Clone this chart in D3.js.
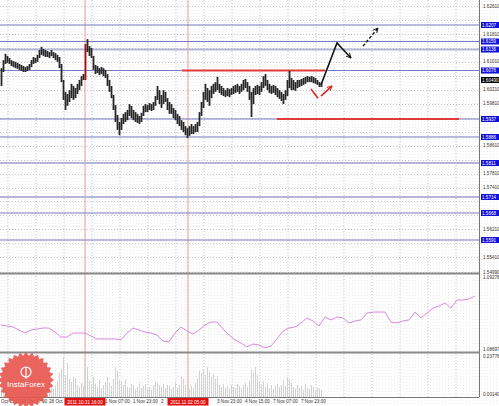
<!DOCTYPE html>
<html>
<head>
<meta charset="utf-8">
<script src="https://cdn.jsdelivr.net/npm/d3@7"></script>
<style>
body { margin: 0; background: #fff; }
svg { display: block; font-family: "Liberation Sans", Arial, sans-serif; }
</style>
</head>
<body>
<svg id="chart" width="499" height="406"></svg>
<script>
// hourly bars
var highs = [1.6083,1.6106,1.6124,1.6118,1.6112,1.6106,1.6103,1.6101,1.6098,1.6095,
  1.6092,1.6089,1.6086,1.6089,1.6095,1.6106,1.6115,1.6112,1.6121,1.6135,
  1.6144,1.6138,1.6135,1.6132,1.6129,1.6135,1.6129,1.6126,1.6121,1.6115,
  1.6095,1.6049,1.6015,1.6009,1.6020,1.6038,1.6032,1.6026,1.6038,1.6049,
  1.6060,1.6066,1.6152,1.6166,1.6146,1.6141,1.6118,1.6092,1.6089,1.6083,
  1.6086,1.6083,1.6078,1.6066,1.6049,1.6032,1.6006,1.5977,1.5949,1.5929,
  1.5940,1.5952,1.5957,1.5963,1.5980,1.5975,1.5963,1.5957,1.5952,1.5946,
  1.5955,1.5975,1.5980,1.5977,1.5983,1.5980,1.5986,1.6003,1.6032,1.6020,
  1.6006,1.6020,1.6015,1.5997,1.5986,1.5980,1.5969,1.5963,1.5952,1.5946,
  1.5934,1.5929,1.5917,1.5911,1.5917,1.5923,1.5917,1.5923,1.5929,1.5957,
  1.5986,1.6015,1.6038,1.6026,1.6020,1.6032,1.6038,1.6043,1.6058,1.6038,
  1.6032,1.6026,1.6020,1.6026,1.6023,1.6026,1.6032,1.6035,1.6038,1.6032,
  1.6038,1.6049,1.6052,1.6043,1.6032,1.6015,1.6026,1.6032,1.6035,1.6032,
  1.6043,1.6060,1.6066,1.6049,1.6038,1.6032,1.6035,1.6032,1.6026,1.6020,
  1.6015,1.6009,1.6020,1.6049,1.6075,1.6055,1.6049,1.6043,1.6049,1.6049,
  1.6052,1.6055,1.6058,1.6060,1.6058,1.6060,1.6058,1.6055,1.6049,1.6043,
  1.6040];
var lows = [1.6032,1.6072,1.6095,1.6098,1.6095,1.6089,1.6086,1.6083,1.6081,1.6078,
  1.6075,1.6072,1.6072,1.6075,1.6078,1.6086,1.6095,1.6098,1.6101,1.6112,
  1.6121,1.6118,1.6115,1.6115,1.6112,1.6118,1.6112,1.6106,1.6101,1.6083,
  1.6043,1.5992,1.5963,1.5975,1.5986,1.5997,1.5992,1.5997,1.6009,1.6020,
  1.6032,1.6049,1.6049,1.6129,1.6118,1.6112,1.6078,1.6066,1.6069,1.6063,
  1.6066,1.6060,1.6055,1.6032,1.6015,1.5997,1.5963,1.5929,1.5906,1.5891,
  1.5906,1.5923,1.5929,1.5934,1.5946,1.5940,1.5934,1.5929,1.5926,1.5923,
  1.5929,1.5946,1.5957,1.5957,1.5963,1.5960,1.5963,1.5975,1.5992,1.5980,
  1.5969,1.5980,1.5986,1.5963,1.5952,1.5952,1.5940,1.5934,1.5923,1.5917,
  1.5906,1.5900,1.5891,1.5883,1.5889,1.5894,1.5894,1.5900,1.5900,1.5917,
  1.5946,1.5969,1.5992,1.5986,1.5975,1.5997,1.6009,1.6015,1.6020,1.6012,
  1.6006,1.6003,1.6000,1.6003,1.6000,1.6006,1.6009,1.6012,1.6015,1.6009,
  1.6015,1.6020,1.6026,1.6015,1.5992,1.5943,1.5980,1.6006,1.6009,1.6006,
  1.6015,1.6026,1.6032,1.6020,1.6012,1.6009,1.6012,1.6006,1.6000,1.5995,
  1.5989,1.5980,1.5992,1.6003,1.6026,1.6020,1.6020,1.6018,1.6026,1.6029,
  1.6032,1.6035,1.6038,1.6043,1.6043,1.6043,1.6040,1.6038,1.6035,1.6029,
  1.6029];
var volumes = [0.057,0.080,0.046,0.068,0.103,0.051,0.040,0.063,0.086,0.057,
  0.046,0.068,0.034,0.051,0.074,0.114,0.063,0.046,0.080,0.125,
  0.068,0.051,0.040,0.057,0.091,0.074,0.046,0.063,0.086,0.137,
  0.160,0.228,0.125,0.194,0.103,0.086,0.114,0.108,0.068,0.057,
  0.080,0.063,0.177,0.171,0.091,0.068,0.114,0.074,0.057,0.097,
  0.051,0.068,0.086,0.114,0.080,0.063,0.103,0.171,0.148,0.097,
  0.086,0.068,0.097,0.057,0.051,0.074,0.068,0.046,0.057,0.080,
  0.051,0.063,0.074,0.046,0.057,0.040,0.068,0.086,0.080,0.068,
  0.057,0.074,0.051,0.068,0.063,0.046,0.057,0.080,0.051,0.068,
  0.114,0.103,0.068,0.057,0.046,0.063,0.051,0.080,0.103,0.148,
  0.137,0.154,0.125,0.171,0.143,0.114,0.131,0.103,0.120,0.068,
  0.057,0.074,0.051,0.063,0.046,0.068,0.057,0.051,0.074,0.063,
  0.046,0.068,0.080,0.057,0.091,0.154,0.137,0.171,0.125,0.086,
  0.068,0.091,0.057,0.080,0.051,0.068,0.046,0.063,0.074,0.057,
  0.068,0.097,0.063,0.114,0.103,0.080,0.057,0.046,0.068,0.051,
  0.063,0.040,0.074,0.051,0.046,0.068,0.057,0.034,0.051,0.046,0.040];
// overlay line, one value every 3 bars
var overlayStep = 3;
var overlay = [1.08888,1.08880,1.08872,1.08848,1.08824,1.08848,1.08856,1.08864,1.08864,1.08832,
  1.08792,1.08792,1.08824,1.08824,1.08824,1.08800,1.08777,1.08777,1.08777,1.08777,
  1.08769,1.08824,1.08864,1.08848,1.08832,1.08824,1.08808,1.08761,1.08753,1.08824,
  1.08872,1.08840,1.08816,1.08848,1.08888,1.08912,1.08912,1.08856,1.08808,1.08769,
  1.08745,1.08713,1.08737,1.08729,1.08705,1.08721,1.08777,1.08840,1.08864,1.08872,
  1.08904,1.08944,1.08920,1.08880,1.08952,1.08928,1.08952,1.08944,1.08904,1.08920,
  1.08928,1.08983,1.08991,1.08991,1.08991,1.08912,1.08904,1.08920,1.08928,1.08991,
  1.08944,1.08983,1.09023,1.09039,1.09063,1.09023,1.09087,1.09087,1.09095,1.09119];

var levelPrices = [1.62066,1.61593,1.61364,1.60762,1.59373,1.58857,1.58112,1.57138,1.56680,1.55906];
var levelLabels = ["1.6207","1.6159","1.6136","1.6076","1.5937","1.5886","1.5811","1.5714","1.5668","1.5591"];
var heavyLevels = [2, 6, 7];

var priceTicks = [1.6261,1.6221,1.6181,1.6141,1.6101,1.6061,1.6021,1.5981,1.5941,1.5901,
  1.5861,1.5821,1.5781,1.5741,1.5701,1.5661,1.5621,1.5581,1.5541,1.5499];
var priceTickLabels = ["1.62610","1.62210","1.61810","1.61410","1.61010","1.60610","1.60210","1.59810","1.59410","1.59010",
  "1.58610","1.58210","1.57810","1.57410","1.57010","1.56610","1.56210","1.55810","1.55410","1.54990"];
var overlayRange = [1.08697, 1.09278];
var volumeRange = [0.00140, 0.23776];

// time axis: labels as they show on the strip (some are cut by the red boxes)
var timeTickBars = [-10.5,3.5,17.5,45.5,59.5,73.5,101.5,115.5,129.5,143.5];
var timeTickLabels = ["Oct 15:00","28 Oct 07:00","28 Oct","1 Nov 07:00","1 Nov 23:00",
  "2","3 Nov 23:00","4 Nov 15:00","7 Nov 07:00","7 Nov 23:00"];
var eventBars = [42, 93.5];
var eventLabels = ["2011.10.31 16:00", "2011.11.02 05:00"];
var lastPrice = 1.6049;

// drawn objects: resistance / support and the forecast arrows
var resistance = {price: 1.60762, from: 90.5, to: 162};
var support = {price: 1.59373, from: 138, to: 229};
var forecastMain = [[160, 1.6035], [168, 1.6155], [175, 1.6112]];
var forecastNext = [[181, 1.6146], [188.5, 1.6198]];
var pullbackDown = [[155, 1.6023], [158.5, 1.5997]];
var pullbackUp = [[160, 1.6003], [165.5, 1.6032]];

var svg = d3.select("#chart"),
    plotRight = 479,
    price = {top: 0, bottom: 273},
    osc = {top: 275, bottom: 352},
    vol = {top: 354, bottom: 397};

var x = d3.scaleLinear().domain([0, 239]).range([1, 479]);
var y = d3.scaleLinear().domain([1.5499, 1.6261]).range([272, 6]);
var yOsc = d3.scaleLinear().domain(overlayRange).range([349, 276]);
var yVol = d3.scaleLinear().domain([0, volumeRange[1]]).range([vol.bottom, 355]);

var defs = svg.append("defs");
var pat = defs.append("pattern").attr("id", "speckle")
    .attr("width", 3).attr("height", 3).attr("patternUnits", "userSpaceOnUse");
pat.append("rect").attr("width", 3).attr("height", 3).attr("fill", "#fff");
pat.append("rect").attr("x", 1).attr("y", 1).attr("width", 1).attr("height", 1).attr("fill", "#ececec");

function arrowHead(id, color) {
    defs.append("marker").attr("id", id)
        .attr("viewBox", "0 0 10 10").attr("refX", 9).attr("refY", 5)
        .attr("markerWidth", 6).attr("markerHeight", 6)
        .attr("markerUnits", "userSpaceOnUse")
        .attr("orient", "auto")
      .append("path")
        .attr("d", "M1,1 L9,5 L1,9")
        .attr("fill", "none").attr("stroke", color).attr("stroke-width", 1.6);
}
arrowHead("head-black", "#111");
arrowHead("head-red", "#e02424");

svg.append("rect").attr("width", 499).attr("height", 406).attr("fill", "url(#speckle)");

var g = svg.append("g");

// grid
var gridX = d3.range(-10.5, 240, 14);
g.selectAll(".vgrid").data(gridX).enter().append("line")
    .attr("x1", function(d) { return x(d); }).attr("x2", function(d) { return x(d); })
    .attr("y1", 0).attr("y2", vol.bottom)
    .attr("stroke", "#c4c4c4").attr("stroke-dasharray", "1,2");
g.selectAll(".hgrid").data(priceTicks).enter().append("line")
    .attr("x1", 0).attr("x2", plotRight)
    .attr("y1", function(d) { return Math.round(y(d)) + 0.5; })
    .attr("y2", function(d) { return Math.round(y(d)) + 0.5; })
    .attr("stroke", "#c4c4c4").attr("stroke-dasharray", "1,2");

// event lines
g.selectAll(".event").data(eventBars).enter().append("line")
    .attr("x1", function(d) { return x(d); }).attr("x2", function(d) { return x(d); })
    .attr("y1", 0).attr("y2", vol.bottom)
    .attr("stroke", "#ec9a9a").attr("stroke-width", 1);

// level lines
g.selectAll(".level").data(levelPrices).enter().append("line")
    .attr("x1", 0).attr("x2", plotRight)
    .attr("y1", function(d) { return y(d); }).attr("y2", function(d) { return y(d); })
    .attr("stroke", function(d, i) { return heavyLevels.indexOf(i) >= 0 ? "#b4b4dc" : "#7a7ac4"; })
    .attr("stroke-width", function(d, i) { return heavyLevels.indexOf(i) >= 0 ? 2.2 : 1.1; });

// resistance / support
[resistance, support].forEach(function(r) {
    g.append("line")
        .attr("x1", x(r.from)).attr("x2", x(r.to))
        .attr("y1", y(r.price)).attr("y2", y(r.price))
        .attr("stroke", "#e23a3a").attr("stroke-width", 2);
});

// volume
g.selectAll(".vol").data(volumes).enter().append("line")
    .attr("x1", function(d, i) { return x(i) + 0.5; })
    .attr("x2", function(d, i) { return x(i) + 0.5; })
    .attr("y1", vol.bottom)
    .attr("y2", function(d) { return yVol(d); })
    .attr("stroke", "#d2d2d2").attr("stroke-width", 1);

// bars
g.selectAll(".bar").data(highs).enter().append("line")
    .attr("x1", function(d, i) { return x(i) + 0.5; })
    .attr("x2", function(d, i) { return x(i) + 0.5; })
    .attr("y1", function(d) { return y(d); })
    .attr("y2", function(d, i) { return y(lows[i]); })
    .attr("stroke", function(d, i) { return eventBars.indexOf(i) >= 0 ? "#a01010" : "#262626"; })
    .attr("stroke-width", 1.8);

// forecast arrows
var fline = d3.line().x(function(d) { return x(d[0]); }).y(function(d) { return y(d[1]); });
g.append("path").attr("d", fline(forecastMain))
    .attr("fill", "none").attr("stroke", "#111").attr("stroke-width", 1.5)
    .attr("marker-end", "url(#head-black)");
g.append("path").attr("d", fline(forecastNext))
    .attr("fill", "none").attr("stroke", "#111").attr("stroke-width", 1.4)
    .attr("stroke-dasharray", "3,2").attr("marker-end", "url(#head-black)");
g.append("path").attr("d", fline(pullbackDown))
    .attr("fill", "none").attr("stroke", "#e02424").attr("stroke-width", 1.6);
g.append("path").attr("d", fline(pullbackUp))
    .attr("fill", "none").attr("stroke", "#e02424").attr("stroke-width", 1.6)
    .attr("marker-end", "url(#head-red)");

// overlay line
var oline = d3.line()
    .x(function(d, i) { return x(i * overlayStep); })
    .y(function(d) { return yOsc(d); });
g.append("path").attr("d", oline(overlay))
    .attr("fill", "none").attr("stroke", "#d98ad9").attr("stroke-width", 1);

// panel separators and axis
[price.bottom + 0.5, osc.bottom + 0.5].forEach(function(yy) {
    g.append("line").attr("x1", 0).attr("x2", plotRight).attr("y1", yy).attr("y2", yy)
        .attr("stroke", "#8a8a8a").attr("stroke-width", 2);
});
g.append("line").attr("x1", 0).attr("x2", plotRight).attr("y1", vol.bottom + 0.5).attr("y2", vol.bottom + 0.5)
    .attr("stroke", "#777").attr("stroke-width", 1);
g.append("line").attr("x1", plotRight + 0.5).attr("x2", plotRight + 0.5).attr("y1", 0).attr("y2", vol.bottom)
    .attr("stroke", "#777").attr("stroke-width", 1);

// price labels (the ones under a level box are hidden, as on the terminal)
var boxYs = levelPrices.concat([lastPrice]).map(function(p) { return y(p); });
var shown = priceTicks.map(function(p, i) { return i; }).filter(function(i) {
    var ty = y(priceTicks[i]);
    return boxYs.every(function(b) { return Math.abs(b - ty) > 5.5; });
});
var ax = svg.append("g").attr("font-size", 4.6).attr("fill", "#333");
ax.selectAll(".pt").data(shown).enter().append("text")
    .attr("x", 483).attr("y", function(i) { return y(priceTicks[i]); })
    .attr("dy", "0.35em")
    .text(function(i) { return priceTickLabels[i]; });
ax.append("text").attr("x", 483).attr("y", 277).attr("dy", "0.35em").text(overlayRange[1].toFixed(5));
ax.append("text").attr("x", 483).attr("y", 349).attr("dy", "0.35em").text(overlayRange[0].toFixed(5));
ax.append("text").attr("x", 483).attr("y", 356.5).attr("dy", "0.35em").text(volumeRange[1].toFixed(5));
ax.append("text").attr("x", 483).attr("y", 394.5).attr("dy", "0.35em").text(volumeRange[0].toFixed(5));

var lv = svg.append("g");
levelPrices.forEach(function(p, i) {
    lv.append("rect").attr("x", 481).attr("y", y(p) - 3).attr("width", 18).attr("height", 6).attr("fill", "#1010d8");
    lv.append("text").attr("x", 482).attr("y", y(p)).attr("dy", "0.35em")
        .attr("font-size", 4.6).attr("fill", "#fff").text(levelLabels[i]);
});
lv.append("rect").attr("x", 481).attr("y", y(lastPrice) - 3).attr("width", 18).attr("height", 6).attr("fill", "#000");
lv.append("text").attr("x", 482).attr("y", y(lastPrice)).attr("dy", "0.35em")
    .attr("font-size", 4.6).attr("fill", "#fff").text(lastPrice.toFixed(5));

// time labels
var tx = svg.append("g").attr("font-size", 4.6).attr("fill", "#333");
tx.selectAll(".tt").data(timeTickBars).enter().append("text")
    .attr("x", function(d) { return Math.max(1, x(d) + 13); }).attr("y", 403)
    .text(function(d, i) { return timeTickLabels[i]; });
eventBars.forEach(function(b, i) {
    tx.append("rect").attr("x", x(b) - 20.5).attr("y", 398).attr("width", 41).attr("height", 7.5).attr("fill", "#e01010");
    tx.append("text").attr("x", x(b)).attr("y", 403.6).attr("text-anchor", "middle")
        .attr("fill", "#fff").text(eventLabels[i]);
});

// InstaForex badge
var badge = svg.append("g").attr("transform", "translate(26,380)");
var pts = d3.range(56).map(function(k) {
    var a = k / 56 * 2 * Math.PI, r = k % 2 ? 24.5 : 28;
    return [Math.cos(a) * r, Math.sin(a) * r];
});
badge.append("polygon").attr("points", pts.map(function(p) { return p.join(","); }).join(" "))
    .attr("fill", "#e8544c").attr("fill-opacity", 0.9);
badge.append("circle").attr("cy", -8).attr("r", 5).attr("fill", "none").attr("stroke", "#fff").attr("stroke-width", 1.2);
badge.append("line").attr("x1", 0).attr("x2", 0).attr("y1", -13).attr("y2", -1).attr("stroke", "#fff").attr("stroke-width", 1.2);
badge.append("text").attr("y", 7).attr("text-anchor", "middle").attr("fill", "#fff")
    .attr("font-size", 8).text("InstaForex");
</script>
</body>
</html>
